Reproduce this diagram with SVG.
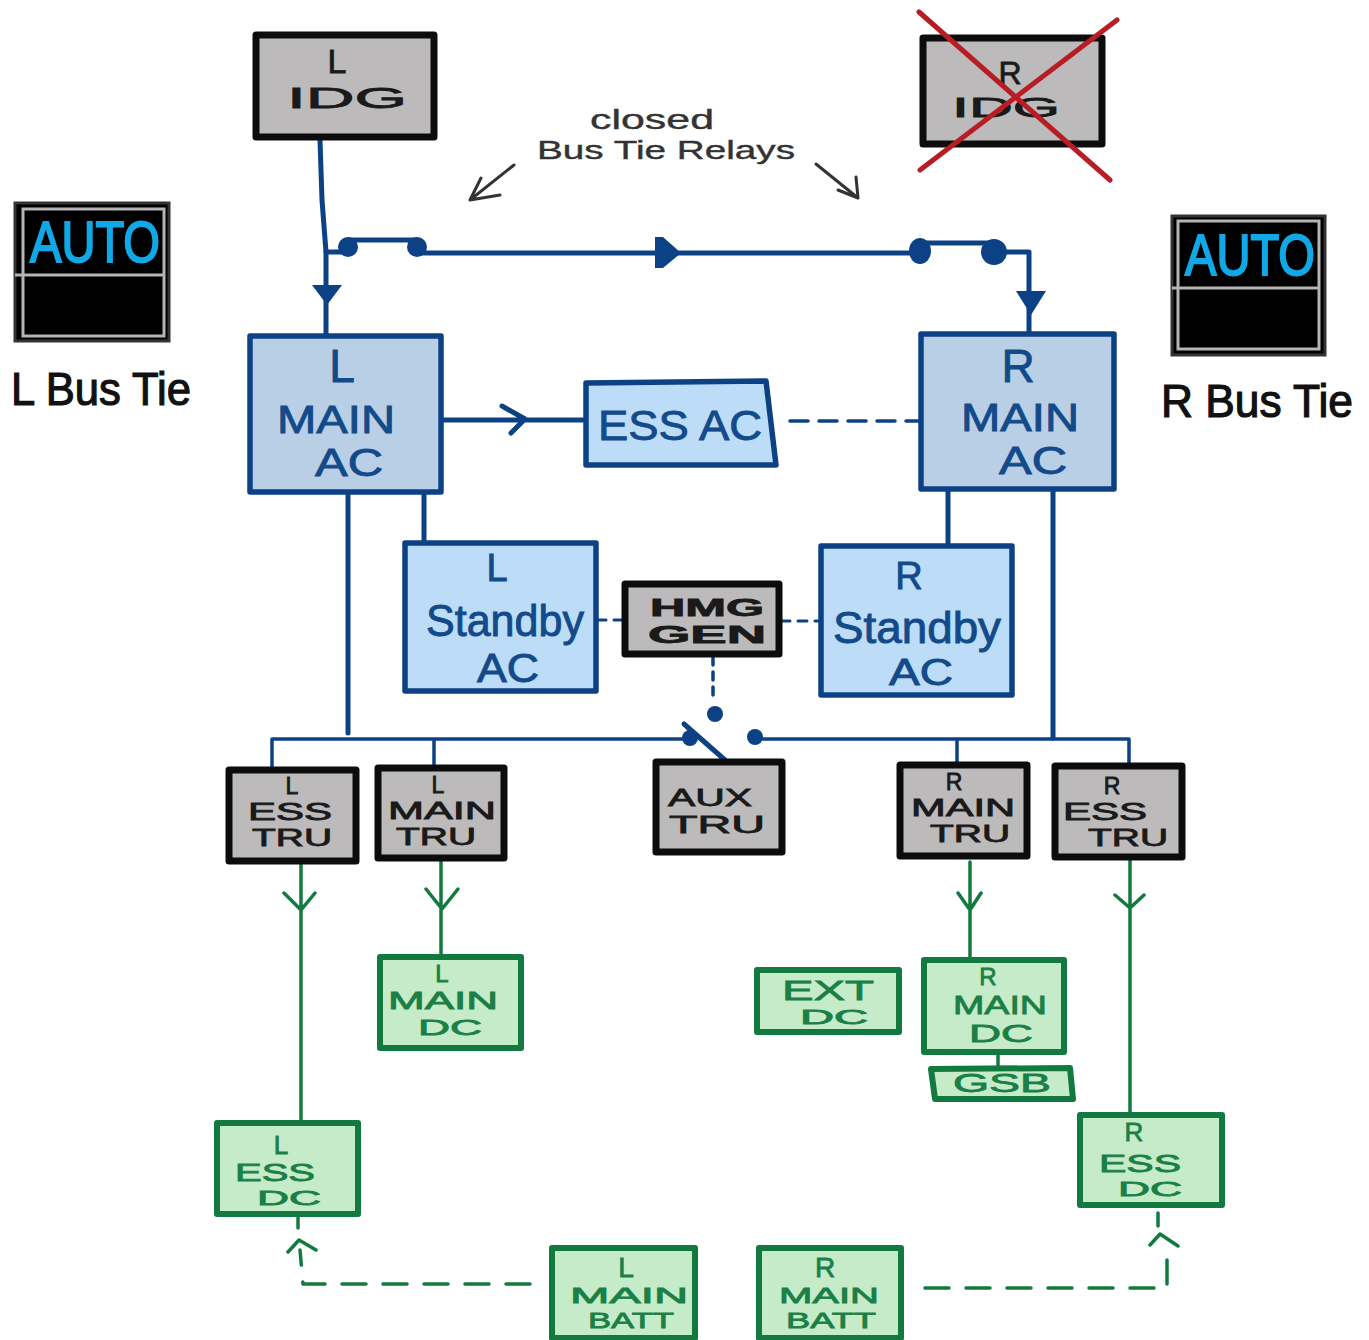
<svg xmlns="http://www.w3.org/2000/svg" width="1369" height="1340" viewBox="0 0 1369 1340">
<style>
text{font-family:"Liberation Sans",Arial,sans-serif;text-anchor:middle}
.g{fill:#bcbaba;stroke:#0c0c0c;stroke-width:7;stroke-linejoin:round}
.m{fill:#b9cfe5;stroke:#0c4285;stroke-width:5.5;stroke-linejoin:round}
.s{fill:#bcdcf7;stroke:#0c4285;stroke-width:5.5;stroke-linejoin:round}
.d{fill:#c6ebc9;stroke:#127a3e;stroke-width:6;stroke-linejoin:round}
.tk{fill:#1a1a1a;stroke:#1a1a1a;stroke-width:.8}.tb{fill:#134a8a;stroke:#134a8a;stroke-width:.9}.tg{fill:#1a8046;stroke:#1a8046;stroke-width:.8}
.bl{fill:none;stroke:#0c4285;stroke-linecap:round;stroke-linejoin:round}
.gr{fill:none;stroke:#127a3e;stroke-linecap:round;stroke-linejoin:round;stroke-width:3.5}
.gd{stroke-dasharray:24 17;stroke-width:3.5}
.bd{fill:#0c4285}
.sk{fill:none;stroke:#333;stroke-width:3;stroke-linecap:round;stroke-linejoin:round}
.x{fill:none;stroke:#b81c24;stroke-width:5;stroke-linecap:round}
.panel{fill:#000;stroke:#333;stroke-width:3}
.in{fill:none;stroke:#b5b5b5;stroke-width:3}
.auto{fill:#10a8e6;stroke:#10a8e6;stroke-width:2;font-size:58px}
.lab{fill:#111;stroke:#111;stroke-width:1.2}
.note{fill:#333;stroke:#333;stroke-width:.4}
</style>
<g id="connectors">
<path class="bl" stroke-width="5" d="M320,140L322,200L326,252V335"/>
<path class="bl" stroke-width="5" d="M326,252H348M348,240H416M416,253H920M920,243H995M995,252H1029V333"/>
<polygon class="bd" points="312,285 342,285 327,305"/>
<polygon class="bd" points="655,237 663,237 681,253 663,268 655,268"/>
<polygon class="bd" points="1016,291 1046,291 1031,315"/>
<circle class="bd" cx="348" cy="247" r="10"/><circle class="bd" cx="417" cy="247" r="10"/>
<ellipse class="bd" cx="920" cy="251" rx="11" ry="13"/><ellipse class="bd" cx="994" cy="252" rx="13" ry="13"/>
<path class="bl" stroke-width="5" d="M443,420H586M502,406L525,419L511,433"/>
<path class="bl" stroke-width="3.5" stroke-dasharray="18 11" d="M790,421H920"/>
<path class="bl" stroke-width="5" d="M348,493V733M424,493V543M948,490V546M1053,490V738"/>
<path class="bl" stroke-width="3" stroke-dasharray="9 8" d="M597,620H625M781,621H821"/>
<path class="bl" stroke-width="3.5" stroke-dasharray="8 7" d="M713,657V702"/>
<circle class="bd" cx="715" cy="714" r="8"/><circle class="bd" cx="690" cy="738" r="8"/><circle class="bd" cx="755" cy="737" r="8"/>
<path class="bl" stroke-width="5" d="M684,724L725,760"/>
<path class="bl" stroke-width="3.5" d="M272,768V739H690M755,739H1129V765M434,739V767M957,739V764"/>
<path class="gr" d="M301,862V1124M284,893L301,910L315,893M441,860V957M426,889L442,909L458,889M970,862V960M958,893L970,910L981,893M1130,858V1115M1115,895L1130,908L1144,895M998,1052V1068"/>
<path class="gr gd" d="M530,1284H303L300,1250"/>
<path class="gr" d="M288,1252L299,1240L316,1250M1150,1245L1160,1234L1178,1246"/>
<path class="gr" d="M298,1218V1228M1158,1213V1226"/>
<path class="gr gd" d="M925,1288H1167V1255"/>
<path class="sk" d="M514,165L470,200M470,200L500,195M470,200L481,178"/>
<path class="sk" d="M816,164L858,198M858,198L838,190M858,198L856,177"/>
</g>
<g id="l-idg"><rect class="g" x="256" y="35" width="178" height="102"/><text class="tk" x="337" y="73" font-size="34">L</text><text class="tk" x="347" y="108" font-size="30" textLength="120" lengthAdjust="spacingAndGlyphs">IDG</text></g>
<g id="r-idg"><rect class="g" x="923" y="38" width="179" height="106"/><text class="tk" x="1010" y="84" font-size="32">R</text><text class="tk" x="1006" y="117" font-size="28" textLength="108" lengthAdjust="spacingAndGlyphs">IDG</text><path class="x" d="M919,12L1110,180M1117,20L920,170"/></g>
<g id="note"><text class="note" x="652" y="129" font-size="28" textLength="124" lengthAdjust="spacingAndGlyphs">closed</text><text class="note" x="666" y="159" font-size="26" textLength="258" lengthAdjust="spacingAndGlyphs">Bus Tie Relays</text></g>
<g id="l-bus-tie"><rect class="panel" x="15" y="203" width="154" height="138"/><rect class="in" x="23" y="209" width="141" height="127"/><path class="in" d="M15,275H164"/><text class="auto" x="95" y="262" textLength="130" lengthAdjust="spacingAndGlyphs">AUTO</text><text class="lab" x="101" y="405" font-size="46" textLength="180" lengthAdjust="spacingAndGlyphs">L Bus Tie</text></g>
<g id="r-bus-tie"><rect class="panel" x="1172" y="216" width="153" height="139"/><rect class="in" x="1178" y="221" width="141" height="128"/><path class="in" d="M1172,288H1319"/><text class="auto" x="1250" y="275" textLength="130" lengthAdjust="spacingAndGlyphs">AUTO</text><text class="lab" x="1257" y="417" font-size="46" textLength="192" lengthAdjust="spacingAndGlyphs">R Bus Tie</text></g>
<g id="l-main-ac"><rect class="m" x="250" y="336" width="191" height="156"/><text class="tb" x="342" y="382" font-size="46">L</text><text class="tb" x="336" y="433" font-size="38" textLength="118" lengthAdjust="spacingAndGlyphs">MAIN</text><text class="tb" x="349" y="476" font-size="38" textLength="68" lengthAdjust="spacingAndGlyphs">AC</text></g>
<g id="r-main-ac"><rect class="m" x="921" y="334" width="193" height="155"/><text class="tb" x="1018" y="382" font-size="46">R</text><text class="tb" x="1020" y="431" font-size="38" textLength="118" lengthAdjust="spacingAndGlyphs">MAIN</text><text class="tb" x="1033" y="474" font-size="38" textLength="68" lengthAdjust="spacingAndGlyphs">AC</text></g>
<g id="ess-ac"><polygon class="s" points="586,383 766,381 776,465 586,465"/><text class="tb" x="680" y="440" font-size="42" textLength="164" lengthAdjust="spacingAndGlyphs">ESS AC</text></g>
<g id="l-standby-ac"><rect class="s" x="405" y="543" width="191" height="148"/><text class="tb" x="497" y="581" font-size="38">L</text><text class="tb" x="505" y="636" font-size="44" textLength="158" lengthAdjust="spacingAndGlyphs">Standby</text><text class="tb" x="508" y="682" font-size="40" textLength="62" lengthAdjust="spacingAndGlyphs">AC</text></g>
<g id="r-standby-ac"><rect class="s" x="821" y="546" width="191" height="149"/><text class="tb" x="909" y="589" font-size="38">R</text><text class="tb" x="917" y="643" font-size="44" textLength="168" lengthAdjust="spacingAndGlyphs">Standby</text><text class="tb" x="921" y="685" font-size="36" textLength="64" lengthAdjust="spacingAndGlyphs">AC</text></g>
<g id="hmg-gen"><rect class="g" x="625" y="584" width="154" height="70"/><text class="tk" x="707" y="616" font-size="24" font-weight="bold" textLength="114" lengthAdjust="spacingAndGlyphs">HMG</text><text class="tk" x="707" y="643" font-size="24" font-weight="bold" textLength="118" lengthAdjust="spacingAndGlyphs">GEN</text></g>
<g id="l-ess-tru"><rect class="g" x="229" y="770" width="127" height="91"/><text class="tk" x="292" y="794" font-size="23">L</text><text class="tk" x="290" y="820" font-size="23" textLength="84" lengthAdjust="spacingAndGlyphs">ESS</text><text class="tk" x="292" y="846" font-size="23" textLength="80" lengthAdjust="spacingAndGlyphs">TRU</text></g>
<g id="l-main-tru"><rect class="g" x="378" y="768" width="126" height="90"/><text class="tk" x="438" y="793" font-size="23">L</text><text class="tk" x="442" y="819" font-size="23" textLength="108" lengthAdjust="spacingAndGlyphs">MAIN</text><text class="tk" x="436" y="845" font-size="23" textLength="80" lengthAdjust="spacingAndGlyphs">TRU</text></g>
<g id="aux-tru"><rect class="g" x="656" y="762" width="126" height="90"/><text class="tk" x="710" y="806" font-size="24" textLength="84" lengthAdjust="spacingAndGlyphs">AUX</text><text class="tk" x="717" y="833" font-size="24" textLength="96" lengthAdjust="spacingAndGlyphs">TRU</text></g>
<g id="r-main-tru"><rect class="g" x="900" y="765" width="127" height="91"/><text class="tk" x="954" y="790" font-size="23">R</text><text class="tk" x="963" y="816" font-size="23" textLength="104" lengthAdjust="spacingAndGlyphs">MAIN</text><text class="tk" x="970" y="842" font-size="23" textLength="80" lengthAdjust="spacingAndGlyphs">TRU</text></g>
<g id="r-ess-tru"><rect class="g" x="1055" y="766" width="127" height="91"/><text class="tk" x="1112" y="794" font-size="23">R</text><text class="tk" x="1105" y="820" font-size="23" textLength="84" lengthAdjust="spacingAndGlyphs">ESS</text><text class="tk" x="1128" y="846" font-size="23" textLength="80" lengthAdjust="spacingAndGlyphs">TRU</text></g>
<g id="l-main-dc"><rect class="d" x="380" y="957" width="141" height="91"/><text class="tg" x="442" y="982" font-size="24">L</text><text class="tg" x="443" y="1009" font-size="24" textLength="110" lengthAdjust="spacingAndGlyphs">MAIN</text><text class="tg" x="450" y="1035" font-size="22" textLength="64" lengthAdjust="spacingAndGlyphs">DC</text></g>
<g id="ext-dc"><rect class="d" x="757" y="970" width="142" height="62"/><text class="tg" x="828" y="1000" font-size="28" textLength="92" lengthAdjust="spacingAndGlyphs">EXT</text><text class="tg" x="834" y="1024" font-size="20" textLength="68" lengthAdjust="spacingAndGlyphs">DC</text></g>
<g id="r-main-dc"><rect class="d" x="924" y="960" width="140" height="92"/><text class="tg" x="988" y="985" font-size="24">R</text><text class="tg" x="1000" y="1014" font-size="26" textLength="94" lengthAdjust="spacingAndGlyphs">MAIN</text><text class="tg" x="1001" y="1042" font-size="24" textLength="64" lengthAdjust="spacingAndGlyphs">DC</text></g>
<g id="gsb"><polygon class="d" points="931,1069 1070,1068 1073,1099 935,1099"/><text class="tg" x="1002" y="1092" font-size="26" textLength="98" lengthAdjust="spacingAndGlyphs">GSB</text></g>
<g id="l-ess-dc"><rect class="d" x="217" y="1123" width="141" height="91"/><text class="tg" x="281" y="1154" font-size="26">L</text><text class="tg" x="275" y="1181" font-size="24" textLength="80" lengthAdjust="spacingAndGlyphs">ESS</text><text class="tg" x="289" y="1205" font-size="20" textLength="64" lengthAdjust="spacingAndGlyphs">DC</text></g>
<g id="r-ess-dc"><rect class="d" x="1080" y="1115" width="142" height="90"/><text class="tg" x="1134" y="1141" font-size="26">R</text><text class="tg" x="1140" y="1172" font-size="24" textLength="82" lengthAdjust="spacingAndGlyphs">ESS</text><text class="tg" x="1150" y="1196" font-size="20" textLength="64" lengthAdjust="spacingAndGlyphs">DC</text></g>
<g id="l-main-batt"><rect class="d" x="552" y="1248" width="143" height="90"/><text class="tg" x="626" y="1277" font-size="28">L</text><text class="tg" x="629" y="1303" font-size="22" textLength="118" lengthAdjust="spacingAndGlyphs">MAIN</text><text class="tg" x="631" y="1328" font-size="22" textLength="86" lengthAdjust="spacingAndGlyphs">BATT</text></g>
<g id="r-main-batt"><rect class="d" x="759" y="1248" width="142" height="90"/><text class="tg" x="825" y="1277" font-size="28">R</text><text class="tg" x="829" y="1303" font-size="22" textLength="100" lengthAdjust="spacingAndGlyphs">MAIN</text><text class="tg" x="831" y="1328" font-size="22" textLength="90" lengthAdjust="spacingAndGlyphs">BATT</text></g>
</svg>
